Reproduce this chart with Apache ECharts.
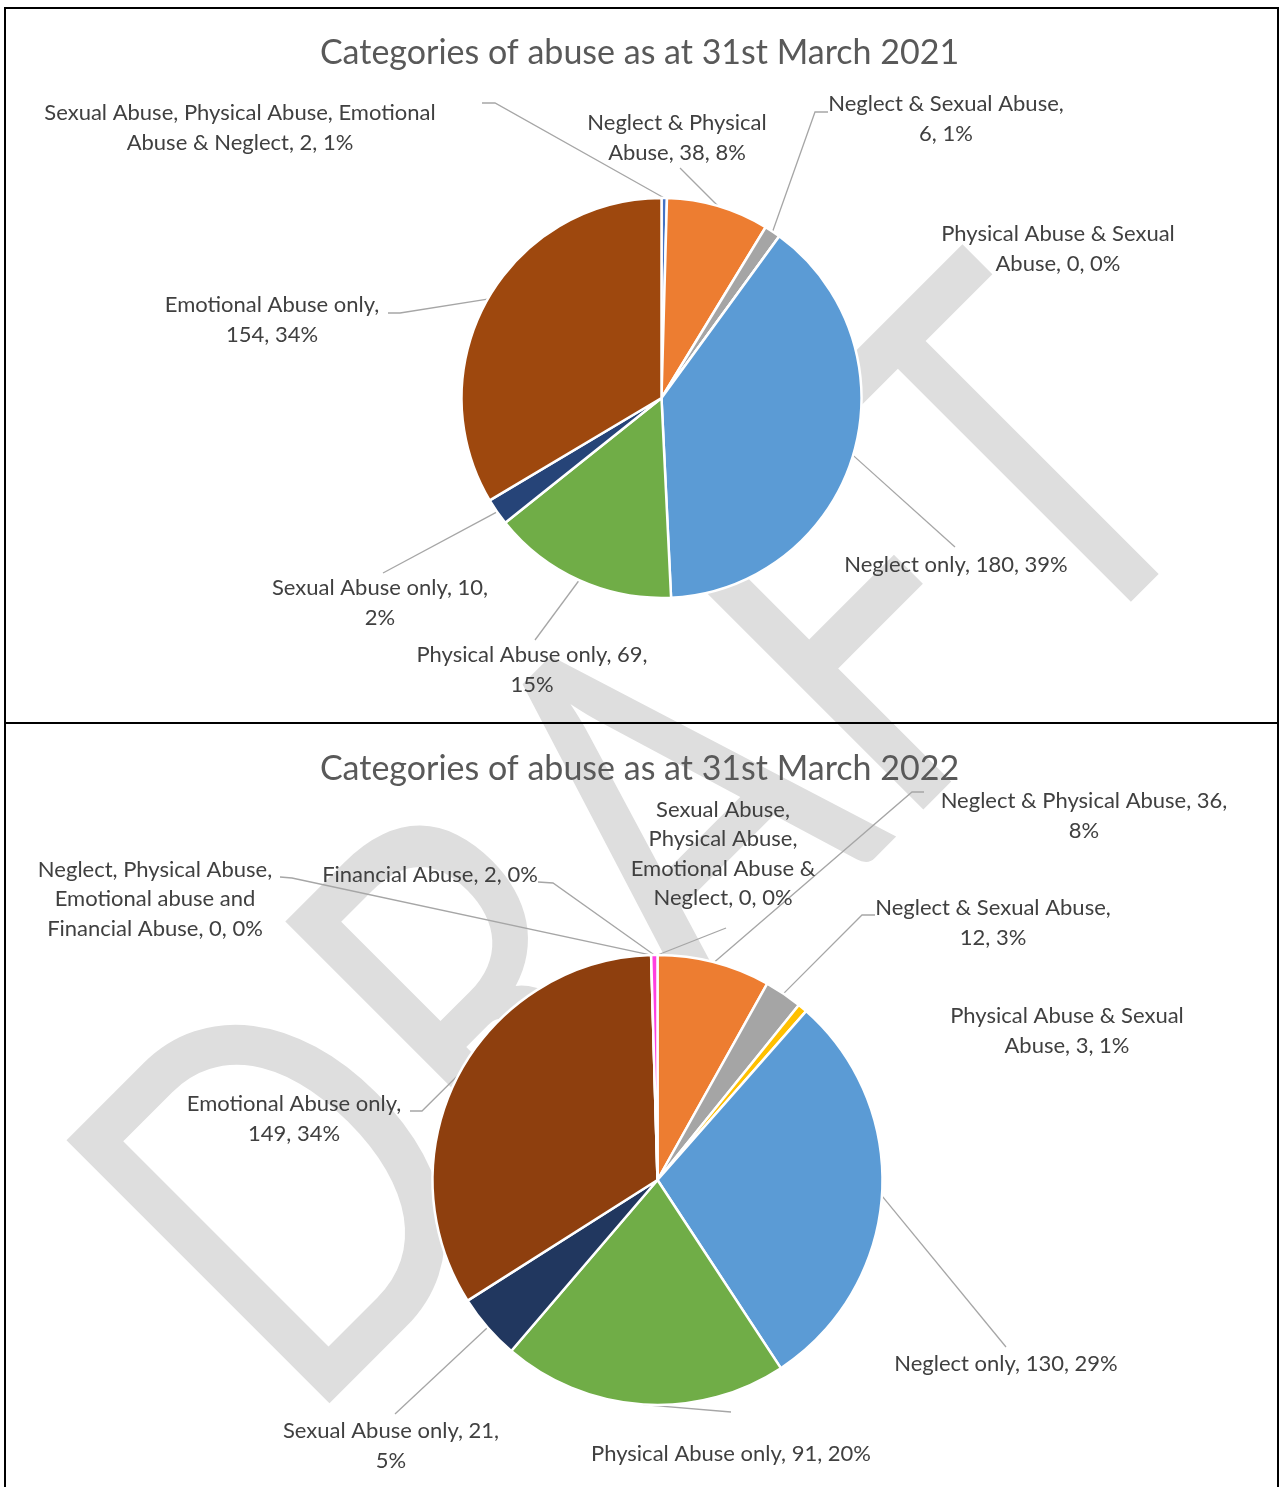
<!DOCTYPE html>
<html>
<head>
<meta charset="utf-8">
<title>Categories of abuse</title>
<script src="https://cdn.jsdelivr.net/npm/echarts@6/dist/echarts.min.js"></script>
<style>
  body { margin: 0; background: #fff; }
  #main { width: 1279px; height: 1487px; }
</style>
</head>
<body>
<div id="main"></div>
<script>
// data (clockwise from 12 o'clock)
const categories2021 = [
  'Sexual Abuse, Physical Abuse, Emotional Abuse & Neglect',
  'Neglect & Physical Abuse',
  'Neglect & Sexual Abuse',
  'Physical Abuse & Sexual Abuse',
  'Neglect only',
  'Physical Abuse only',
  'Sexual Abuse only',
  'Emotional Abuse only'
];
const values2021 = [2, 38, 6, 0, 180, 69, 10, 154];

const categories2022 = [
  'Sexual Abuse, Physical Abuse, Emotional Abuse & Neglect',
  'Neglect & Physical Abuse',
  'Neglect & Sexual Abuse',
  'Physical Abuse & Sexual Abuse',
  'Neglect only',
  'Physical Abuse only',
  'Sexual Abuse only',
  'Emotional Abuse only',
  'Neglect, Physical Abuse, Emotional abuse and Financial Abuse',
  'Financial Abuse'
];
const values2022 = [0, 36, 12, 3, 130, 91, 21, 149, 0, 2];

const titles = ['Categories of abuse as at 31st March 2021', 'Categories of abuse as at 31st March 2022'];

// styling / layout (not data)
const colors2021 = ['#4472C4', '#ED7D31', '#A5A5A5', '#FFC000', '#5B9BD5', '#70AD47', '#264478', '#9E480E'];
const colors2022 = ['#4472C4', '#ED7D31', '#A5A5A5', '#FFC000', '#5B9BD5', '#70AD47', '#21375F', '#8E3F0E', '#7030A0', '#FF3FE0'];

// word index where a new line starts in each label
const wrap2021 = [[5], [3], [4], [4], [], [4], [4], [3]];
const wrap2022 = [[2, 4, 7], [5], [4], [4], [], [], [4], [3], [3, 6], []];

// label centre and leader line bend/end points, like the Excel data labels
const labelPos2021 = [
  { c: [240, 128], line: [[495, 103], [482, 103]] },
  { c: [677, 138], line: [[680, 168]] },
  { c: [946, 119], line: [[815, 112], [828, 112]] },
  { c: [1058, 249], line: null },
  { c: [956, 565], line: [[955, 547]] },
  { c: [532, 670], line: [[535, 640]] },
  { c: [380, 603], line: [[383, 573]] },
  { c: [272, 320], line: [[400, 313], [388, 313]] }
];
const labelPos2022 = [
  { c: [723, 854], line: [[726, 928]] },
  { c: [1084, 816], line: [[912, 792], [924, 792]] },
  { c: [993, 923], line: [[862, 915], [875, 915]] },
  { c: [1067, 1031], line: null },
  { c: [1006, 1364], line: [[1006, 1347]] },
  { c: [731, 1454], line: [[731, 1412]] },
  { c: [391, 1446], line: [[395, 1414]] },
  { c: [294, 1119], line: [[422, 1111], [410, 1111]] },
  { c: [155, 899], line: [[292, 878], [280, 877]] },
  { c: [430, 875], line: [[553, 883], [538, 882]] }
];

const wrapText = (text, breaks) => {
  const words = text.split(' ');
  return words.map((w, i) => (breaks.indexOf(i) >= 0 ? '\n' : (i ? ' ' : '')) + w).join('');
};

const makePie = (names, values, colors, wraps, pos, center, radius) => ({
  type: 'pie',
  center: center,
  radius: radius,
  startAngle: 90,
  clockwise: true,
  avoidLabelOverlap: false,
  percentPrecision: 0,
  minShowLabelAngle: 0,
  stillShowZeroSum: true,
  emphasis: { disabled: true },
  itemStyle: { borderColor: '#fff', borderWidth: 2.5 },
  label: {
    show: true,
    position: 'outside',
    color: '#404040',
    fontSize: 22,
    lineHeight: 29.5,
    fontFamily: 'Lato, "Open Sans", sans-serif',
    align: 'center',
    formatter: (p) => wrapText(p.name + ', ' + p.value + ', ' + p.percent + '%', wraps[p.dataIndex])
  },
  labelLine: { show: true, length: 10, length2: 10, lineStyle: { color: '#A6A6A6', width: 1.3 } },
  labelLayout: (params) => {
    const lp = pos[params.dataIndex];
    const out = { x: lp.c[0], y: lp.c[1], align: 'center', verticalAlign: 'middle' };
    if (lp.line && params.labelLinePoints) {
      out.labelLinePoints = [params.labelLinePoints[0]].concat(lp.line);
    }
    return out;
  },
  data: names.map((n, i) => ({
    name: n,
    value: values[i],
    itemStyle: { color: colors[i] },
    labelLine: { show: !!pos[i].line }
  }))
});

const chart = echarts.init(document.getElementById('main'), null, { renderer: 'canvas' });

const option = {
  backgroundColor: '#fff',
  animation: false,
  title: titles.map((t, i) => ({
    text: t,
    left: 'center',
    top: i === 0 ? 36 : 752,
    padding: 0,
    textStyle: { color: '#595959', fontSize: 34, fontWeight: 'normal', fontFamily: 'Lato, "Open Sans", sans-serif' }
  })),
  graphic: [
    {
      // DRAFT watermark behind everything
      type: 'text',
      x: 648,
      y: 848,
      rotation: Math.PI / 4,
      scaleX: 0.784,
      z: -10,
      silent: true,
      style: {
        text: 'DRAFT',
        fill: '#DEDEDE',
        fontSize: 519,
        fontWeight: 'normal',
        fontFamily: 'Lato, sans-serif',
        align: 'center',
        verticalAlign: 'middle'
      }
    },
    {
      type: 'rect', z: 100, silent: true,
      shape: { x: 5, y: 8, width: 1273, height: 715 },
      style: { fill: 'none', stroke: '#000', lineWidth: 2 }
    },
    {
      type: 'rect', z: 100, silent: true,
      shape: { x: 5, y: 723, width: 1273, height: 800 },
      style: { fill: 'none', stroke: '#000', lineWidth: 2 }
    }
  ],
  series: [
    makePie(categories2021, values2021, colors2021, wrap2021, labelPos2021, [661.5, 398], 200),
    makePie(categories2022, values2022, colors2022, wrap2022, labelPos2022, [657.5, 1180], 225)
  ]
};

chart.setOption(option);
window.addEventListener('resize', () => chart.resize());
</script>
</body>
</html>
